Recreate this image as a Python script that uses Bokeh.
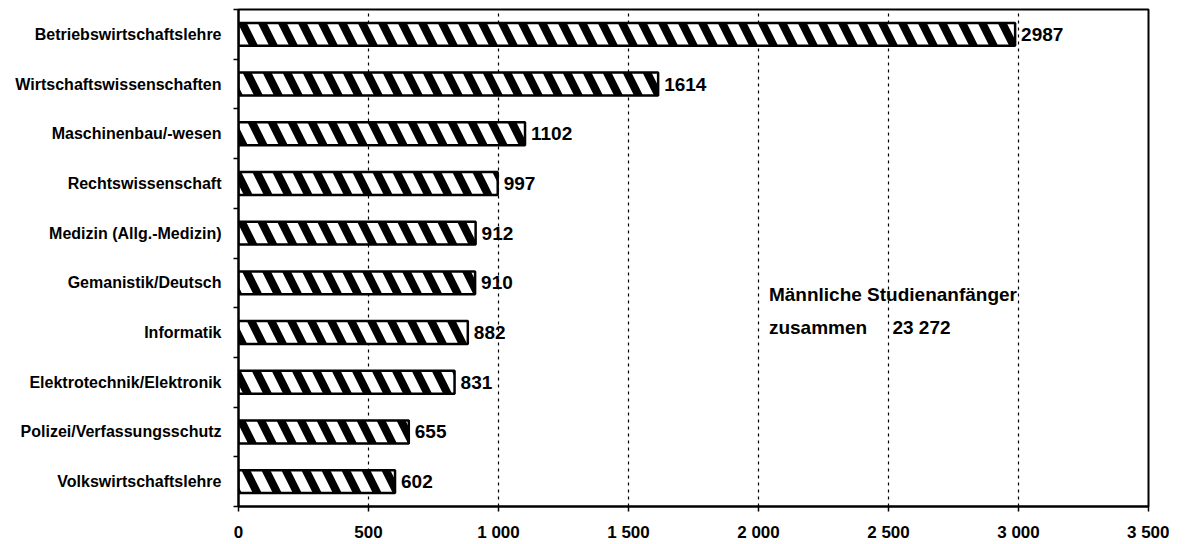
from bokeh.plotting import figure
from bokeh.models import FixedTicker, ColumnDataSource
from bokeh.core.properties import value
from bokeh.embed import file_html
from bokeh.resources import INLINE

# ---- data (top to bottom as in the reference) ----
categories = [
    "Betriebswirtschaftslehre",
    "Wirtschaftswissenschaften",
    "Maschinenbau/-wesen",
    "Rechtswissenschaft",
    "Medizin (Allg.-Medizin)",
    "Gemanistik/Deutsch",
    "Informatik",
    "Elektrotechnik/Elektronik",
    "Polizei/Verfassungsschutz",
    "Volkswirtschaftslehre",
]
values = [2987, 1614, 1102, 997, 912, 910, 882, 831, 655, 602]
x_ticks = [0, 500, 1000, 1500, 2000, 2500, 3000, 3500]
x_tick_labels = ["0", "500", "1 000", "1 500", "2 000", "2 500", "3 000", "3 500"]
note_line1 = "Männliche Studienanfänger"
note_line2a = "zusammen"
note_line2b = "23 272"

FONT = "Liberation Sans"
n = len(categories)
ypos = [n - 0.5 - i for i in range(n)]

src = ColumnDataSource(dict(y=ypos, v=values, lab=[str(v) for v in values], cat=categories))

p = figure(
    width=1169, height=544,
    min_border_left=238, min_border_right=21, min_border_top=9, min_border_bottom=36,
    x_range=(0, 3500), y_range=(0, n),
    output_backend="svg", toolbar_location=None,
)
p.outline_line_color = "black"
p.outline_line_width = 2
p.background_fill_color = "white"
p.border_fill_color = "white"

p.hbar(y="y", right="v", left=0, height=0.46, source=src,
       fill_color="white", line_color="black", line_width=2.5,
       hatch_pattern="\\", hatch_color="black", hatch_scale=40, hatch_weight=8)

p.text(x="v", y="y", text="lab", source=src, x_offset=6,
       text_baseline="middle", text_align="left",
       text_font=value(FONT), text_font_style="bold", text_font_size="19px",
       text_color="black")

# annotation
p.text(x=[2040], y=[4.27], text=[note_line1], text_baseline="middle",
       text_font=value(FONT), text_font_style="bold", text_font_size="19px", text_color="black")
p.text(x=[2040], y=[3.6], text=[note_line2a], text_baseline="middle",
       text_font=value(FONT), text_font_style="bold", text_font_size="19px", text_color="black")
p.text(x=[2515], y=[3.6], text=[note_line2b], text_baseline="middle",
       text_font=value(FONT), text_font_style="bold", text_font_size="19px", text_color="black")

# x axis
xt = FixedTicker(ticks=x_ticks)
p.xaxis.ticker = xt
p.xaxis.major_label_overrides = {t: l for t, l in zip(x_ticks, x_tick_labels)}
p.xaxis.axis_line_color = "black"
p.xaxis.axis_line_width = 2
p.xaxis.major_tick_in = 0
p.xaxis.major_tick_out = 5
p.xaxis.major_tick_line_color = "black"
p.xaxis.major_tick_line_width = 1.5
p.xaxis.minor_tick_line_color = None
p.xaxis.major_label_standoff = 11
p.xaxis.major_label_text_font = FONT
p.xaxis.major_label_text_font_style = "bold"
p.xaxis.major_label_text_font_size = "17px"
p.xaxis.major_label_text_color = "black"

# y axis
yt = FixedTicker(ticks=ypos, minor_ticks=list(range(n + 1)))
p.yaxis.ticker = yt
p.yaxis.major_label_overrides = {y: c for y, c in zip(ypos, categories)}
p.yaxis.axis_line_color = "black"
p.yaxis.axis_line_width = 2
p.yaxis.major_tick_line_color = None
p.yaxis.major_tick_in = 0
p.yaxis.major_tick_out = 0
p.yaxis.minor_tick_in = 0
p.yaxis.minor_tick_out = 5
p.yaxis.minor_tick_line_color = "black"
p.yaxis.minor_tick_line_width = 1.5
p.yaxis.major_label_standoff = 12
p.yaxis.major_label_text_font = FONT
p.yaxis.major_label_text_font_style = "bold"
p.yaxis.major_label_text_font_size = "16px"
p.yaxis.major_label_text_color = "black"

# grid
p.ygrid.grid_line_color = None
p.xgrid.ticker = xt
p.xgrid.grid_line_color = "black"
p.xgrid.grid_line_width = 1.2
p.xgrid.grid_line_dash = "3 4"

open("out.html", "w").write(file_html(p, INLINE))
